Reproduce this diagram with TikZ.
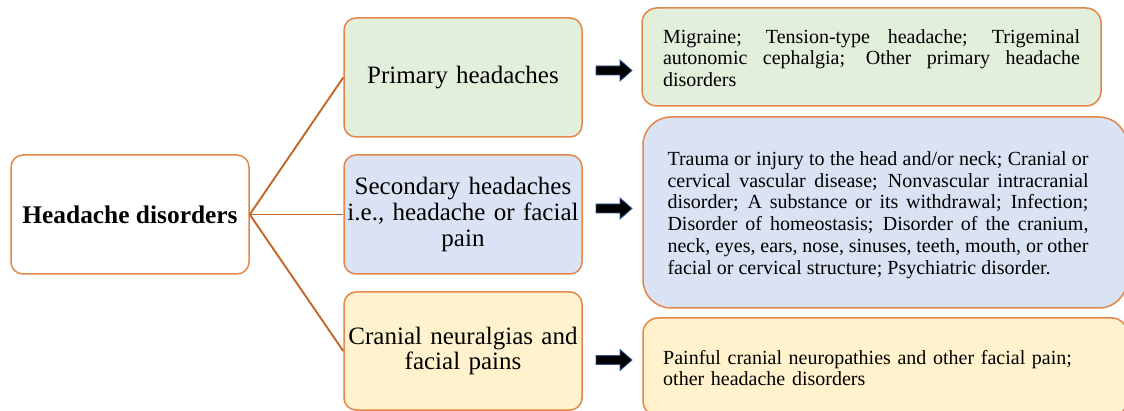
\documentclass[tikz,border=0pt]{standalone}
\usepackage{fontspec}
\setmainfont{Liberation Serif}
\definecolor{boxline}{RGB}{226,134,74}
\definecolor{conn}{RGB}{197,101,40}
\definecolor{gfill}{RGB}{226,239,218}
\definecolor{bfill}{RGB}{218,227,243}
\definecolor{yfill}{RGB}{255,242,204}
\definecolor{arrline}{RGB}{47,85,151}
\begin{document}
\begin{tikzpicture}[x=1pt,y=-1pt,
  box/.style={draw=boxline, line width=1.5pt, rounded corners=12pt, inner sep=0pt},
  midbox/.style={box, minimum width=238pt, minimum height=119pt, align=center, text width=232pt,
     font=\fontsize{25}{25.7}\selectfont},
  rbox/.style={draw=boxline, line width=1.5pt, inner sep=0pt},
  rtext/.style={inner sep=0pt, font=\fontsize{20}{21.8}\selectfont},
  conline/.style={draw=conn, line width=1.9pt},
  blockarrow/.pic={\filldraw[fill=black, draw=arrline, line width=0.8pt]
     (0,-4.5) -- (24,-4.5) -- (24,-10.5) -- (36,0) -- (24,10.5) -- (24,4.5) -- (0,4.5) -- cycle;}
]
\useasboundingbox (0,0) rectangle (1124,411);
\clip (0,0) rectangle (1124,411);

% root
\node[box, fill=white, minimum width=238pt, minimum height=119pt,
      font=\fontsize{25.4}{27}\selectfont\bfseries] (root) at (130,214.5) {Headache disorders};

% middle boxes
\node[midbox, fill=gfill] (prim) at (463,77.5) {Primary headaches};
\node[midbox, fill=bfill] (sec) at (463,214.5) {Secondary headaches\\ i.e., headache or facial\\ pain};
\node[midbox, fill=yfill, minimum height=118pt] (cran) at (463,351) {Cranial neuralgias and\\ facial pains};

% connectors
\draw[conline] (root.east) -- (prim.west);
\draw[conline] (root.east) -- (sec.west);
\draw[conline] (root.east) -- (cran.west);

% right boxes
\node[rbox, fill=gfill, rounded corners=15pt, minimum width=459pt, minimum height=98pt] (r1) at (871.5,57) {};
\node[rbox, fill=bfill, rounded corners=28pt, minimum width=484pt, minimum height=191pt] (r2) at (885,212.5) {};
\node[rbox, fill=yfill, rounded corners=15pt, minimum width=484pt, minimum height=98pt] (r3) at (885,367) {};

\node[rtext, text width=417pt, align=justify] (t1) at (871.5,58)
  {Migraine; Tension-type headache; Trigeminal\linebreak
   autonomic cephalgia; Other primary headache\linebreak
   disorders};
\node[rtext, text width=421pt, align=justify] (t2) at (878,215)
  {Trauma or injury to the head and/or neck; Cranial or\linebreak
   cervical vascular disease; Nonvascular intracranial\linebreak
   disorder; A substance or its withdrawal; Infection;\linebreak
   Disorder of homeostasis; Disorder of the cranium,\linebreak
   neck, eyes, ears, nose, sinuses, teeth, mouth, or other\linebreak
   facial or cervical structure; Psychiatric disorder.};
\node[rtext, text width=430pt, align=left, anchor=west] (t3) at (663,368)
  {Painful cranial neuropathies and other facial pain;\\
   other headache disorders};

% block arrows
\pic (a1) at (596,70.5) {blockarrow};
\pic (a2) at (596,208.5) {blockarrow};
\pic (a3) at (596,360) {blockarrow};
\end{tikzpicture}
\end{document}
